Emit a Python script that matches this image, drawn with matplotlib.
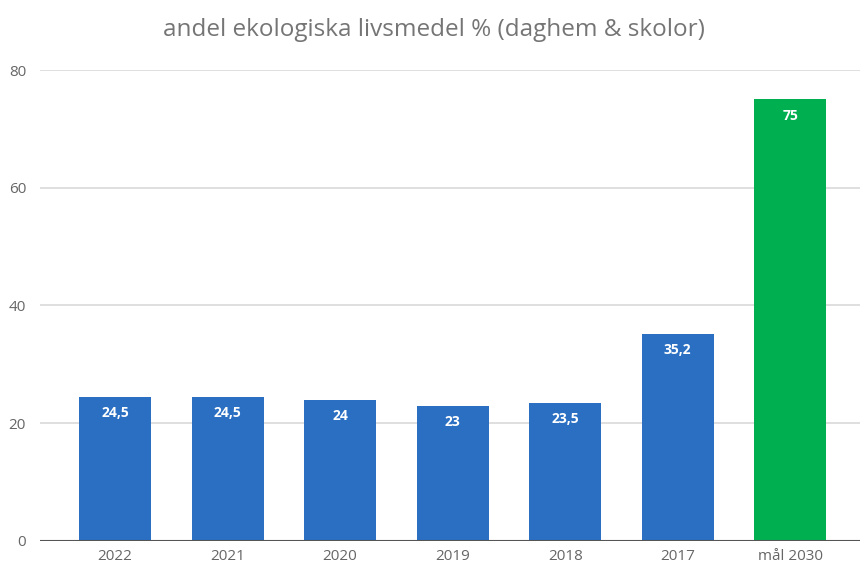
import matplotlib
matplotlib.use("Agg")
import matplotlib.pyplot as plt

categories = ["2022", "2021", "2020", "2019", "2018", "2017", "mål 2030"]
values = [24.5, 24.5, 24, 23, 23.5, 35.2, 75]
value_labels = ["24,5", "24,5", "24", "23", "23,5", "35,2", "75"]
colors = ["#2A6FC2"] * 6 + ["#00B050"]
yticks = [0, 20, 40, 60, 80]

plt.rcParams['font.family'] = ['Open Sans', 'DejaVu Sans']

fig = plt.figure(figsize=(8.6, 5.67), dpi=100)
ax = fig.add_axes([0.0465, 0.0459, 0.9535, 0.8306])

x = list(range(len(categories)))
bars = ax.bar(x, values, width=0.64, color=colors, zorder=3)

for xi, v, lab in zip(x, values, value_labels):
    ax.annotate(lab, (xi, v), xytext=(0, -7), textcoords="offset points",
                ha="center", va="top", color="white", fontsize=10,
                fontweight="bold", zorder=4)

ax.set_xlim(-0.667, 6.62)
ax.set_ylim(0, 80)
ax.set_yticks(yticks)
ax.set_xticks(x)
ax.set_xticklabels(categories)
ax.yaxis.grid(True, color="#d9d9d9", linewidth=1.2, zorder=0)
ax.axhline(0, color="#555555", linewidth=1.5, zorder=5)
for s in ax.spines.values():
    s.set_visible(False)
ax.tick_params(axis="both", length=0, colors="#666666", labelsize=11)
ax.tick_params(axis="y", pad=10)
ax.tick_params(axis="x", pad=6)

fig.text(0.505, 0.947, "andel ekologiska livsmedel % (daghem & skolor)",
         ha="center", va="center", fontsize=17.5, color="#757575")

fig.savefig("out.png", dpi=100)
